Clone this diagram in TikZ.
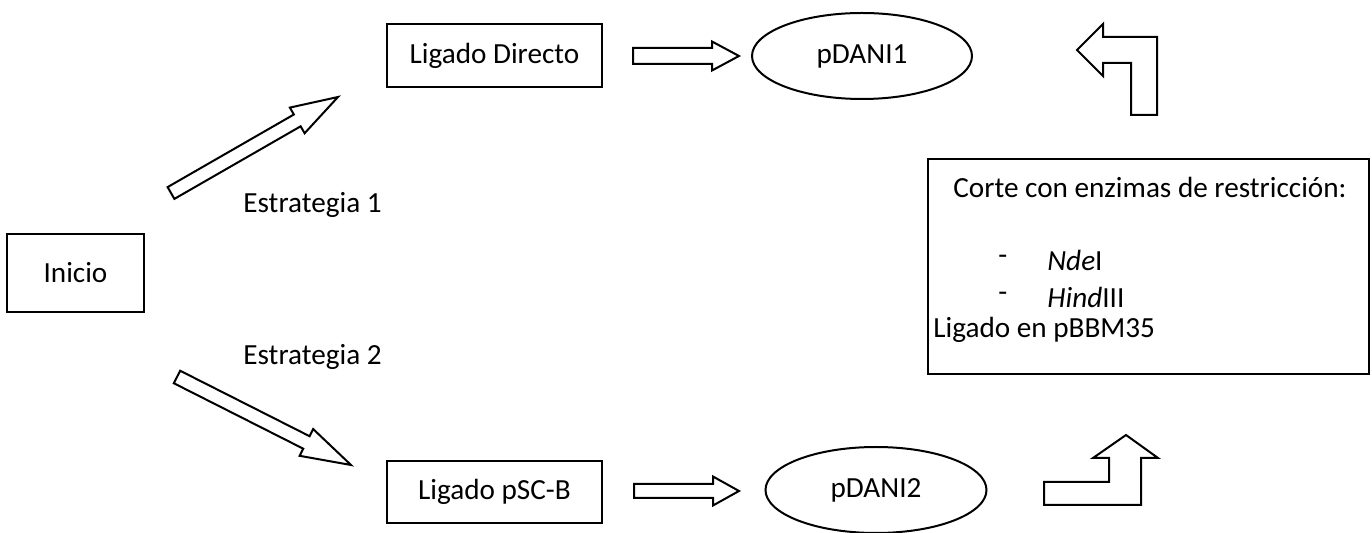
\documentclass[tikz,border=0pt]{standalone}
\usepackage{fontspec}
\setmainfont{Carlito}
\usetikzlibrary{calc,shapes.geometric}

\tikzset{
  caja/.style={draw,line width=1pt,rectangle,inner sep=0pt},
  elipse/.style={draw,line width=1pt,ellipse,inner sep=0pt},
  texto/.style={inner sep=0pt,anchor=west},
  flecha/.style={draw,line width=1pt,fill=white}
}
% block arrow: from, to, half shaft, half head, head length
\newcommand{\blockarrow}[5]{%
  \coordinate (ba-s) at ($(#2)!#5!(#1)$);
  \draw[flecha] ($(#1)!#3!90:(#2)$) -- ($(ba-s)!#3!90:(#2)$) -- ($(ba-s)!#4!90:(#2)$)
    -- (#2) -- ($(ba-s)!#4!-90:(#2)$) -- ($(ba-s)!#3!-90:(#2)$) -- ($(#1)!#3!-90:(#2)$) -- cycle;}

\begin{document}
\begin{tikzpicture}[x=0.5pt,y=-0.5pt,font=\fontsize{14.6pt}{17pt}\selectfont]
\useasboundingbox (0,0) rectangle (1372,533);

\node[caja,minimum width=68.5pt,minimum height=39pt] (inicio) at (75.5,273) {Inicio};
\node[caja,minimum width=107.5pt,minimum height=31.5pt] (ligdir) at (494.5,55.5) {Ligado Directo};
\node[caja,minimum width=107.5pt,minimum height=31pt] (ligpsc) at (494.5,492) {Ligado pSC-B};
\node[elipse,minimum width=110pt,minimum height=43pt] (pdani1) at (862,56) {pDANI1};
\node[elipse,minimum width=110.5pt,minimum height=43pt] (pdani2) at (876,490) {pDANI2};

\node[texto] (est1) at (243,205) {Estrategia 1};
\node[texto] (est2) at (243,357) {Estrategia 2};

% strategy arrows
\coordinate (e1a) at (171,193);
\coordinate (e1b) at (338,97);
\coordinate (e2a) at (177,377);
\coordinate (e2b) at (351,465);
\blockarrow{e1a}{e1b}{3.4pt}{7.4pt}{23.5pt}
\blockarrow{e2a}{e2b}{3.5pt}{7.5pt}{25pt}

% short arrows
\coordinate (l1a) at (633,56);
\coordinate (l1b) at (739,56);
\coordinate (l2a) at (634,491);
\coordinate (l2b) at (739,491);
\blockarrow{l1a}{l1b}{4pt}{7.25pt}{13.5pt}
\blockarrow{l2a}{l2b}{3.5pt}{7.25pt}{13pt}

% restriction box
\node[caja,minimum width=220.5pt,minimum height=107.5pt] (corte) at (1148.5,266.5) {};
\node[texto] (t1) at (953,187) {Corte con enzimas de restricción:};
\node[texto] (g1) at (998,260) {-};
\node[texto] (t2) at (1047,260) {\textit{Nde}I};
\node[texto] (g2) at (998,297) {-};
\node[texto] (t3) at (1047,297) {\textit{Hind}III};
\node[texto] (t4) at (933,330) {Ligado en pBBM35};

% bent arrows
\draw[flecha] (1077,50)--(1103,24)--(1103,37)--(1157,37)--(1157,115)--(1131,115)--(1131,63)--(1103,63)--(1103,76)--cycle;
\draw[flecha] (1126,435)--(1158,458)--(1141,458)--(1141,505)--(1044,505)--(1044,482)--(1109,482)--(1109,458)--(1093,458)--cycle;

\end{tikzpicture}
\end{document}
